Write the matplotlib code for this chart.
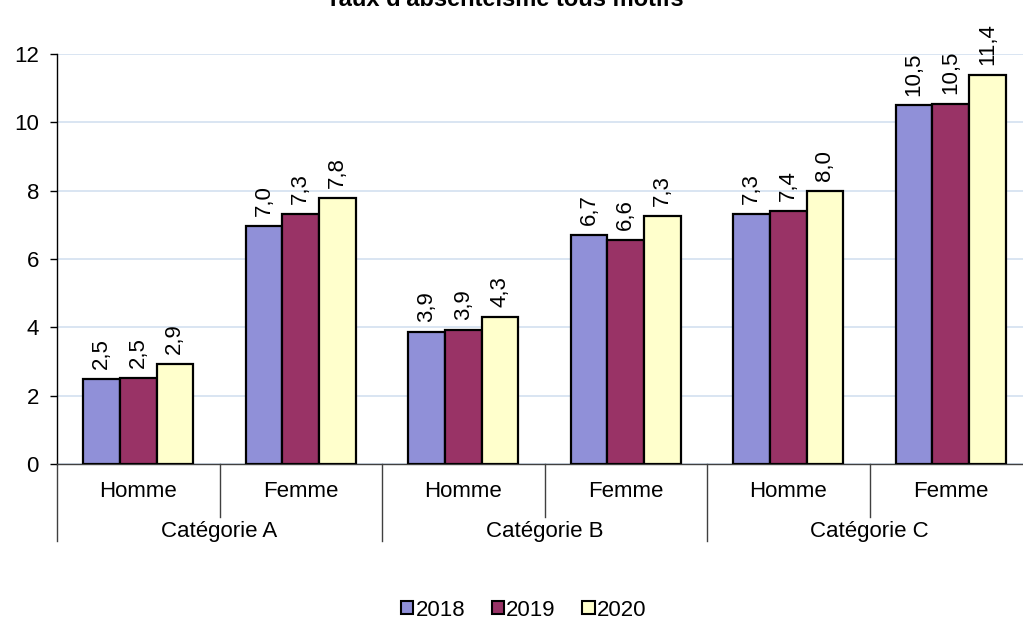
import numpy as np
import matplotlib
matplotlib.use("Agg")
import matplotlib.pyplot as plt
from matplotlib.patches import Patch
from matplotlib.transforms import blended_transform_factory

plt.rcParams['font.family'] = ['Liberation Sans', 'DejaVu Sans']

# data
years = ['2018', '2019', '2020']
sexes = ['Homme', 'Femme', 'Homme', 'Femme', 'Homme', 'Femme']
categories = ['Catégorie A', 'Catégorie B', 'Catégorie C']
v2018 = [2.49, 6.97, 3.87, 6.70, 7.32, 10.50]
v2019 = [2.53, 7.33, 3.92, 6.57, 7.40, 10.54]
v2020 = [2.94, 7.80, 4.30, 7.27, 8.00, 11.40]
colors = ['#9090D8', '#993366', '#FFFFCC']
fs = 16

fig = plt.figure(figsize=(10.23, 6.2), dpi=100)
ax = fig.add_axes([57 / 1023, 156 / 620, 975 / 1023, 410 / 620])

x = np.arange(len(sexes))
w = 0.225
for i, (vals, col) in enumerate(zip([v2018, v2019, v2020], colors)):
    bars = ax.bar(x + (i - 1) * w, vals, w, color=col, edgecolor='black',
                  linewidth=1.6, zorder=3)
    for b, v in zip(bars, vals):
        ax.annotate(('%.1f' % v).replace('.', ','),
                    (b.get_x() + b.get_width() / 2, b.get_height()),
                    xytext=(0, 7), textcoords='offset points',
                    rotation=90, ha='center', va='bottom', fontsize=fs)

ax.set_xlim(-0.5, len(sexes) - 0.5)
ax.set_ylim(0, 12)
ax.set_yticks(range(0, 13, 2))
ax.yaxis.grid(True, color='#D3E0F0', linewidth=1.2, zorder=0)
ax.tick_params(axis='y', labelsize=fs, length=5, width=1, direction='out', pad=8)
ax.set_xticks([])
for s in ['top', 'right']:
    ax.spines[s].set_visible(False)
ax.spines['left'].set_linewidth(1)
ax.spines['bottom'].set_color('#404040')
ax.spines['bottom'].set_linewidth(1)

# hierarchical x labels
tr = blended_transform_factory(ax.transData, ax.transAxes)
for xi, s in zip(x, sexes):
    ax.text(xi, -0.068, s, transform=tr, ha='center', va='center', fontsize=fs)
for j, c in enumerate(categories):
    ax.text(2 * j + 0.5, -0.165, c, transform=tr, ha='center', va='center', fontsize=fs)
for k in range(len(sexes) + 1):
    xb = k - 0.5
    low = -0.188 if k % 2 == 0 else -0.13
    ax.plot([xb, xb], [0, low], transform=tr, color='#404040', lw=1, clip_on=False)

fig.text(0.493, 1.0, "Taux d'absentéisme tous motifs", ha='center', va='center',
         fontsize=17, fontweight='bold')

handles = [Patch(facecolor=c, edgecolor='black', linewidth=1.5) for c in colors]
fig.legend(handles, years, loc='center', bbox_to_anchor=(0.512, 0.016), ncol=3,
           frameon=False, fontsize=fs, handlelength=0.55, handleheight=0.55,
           handletextpad=0.1, columnspacing=1.2)

fig.savefig('out.png', dpi=100)
